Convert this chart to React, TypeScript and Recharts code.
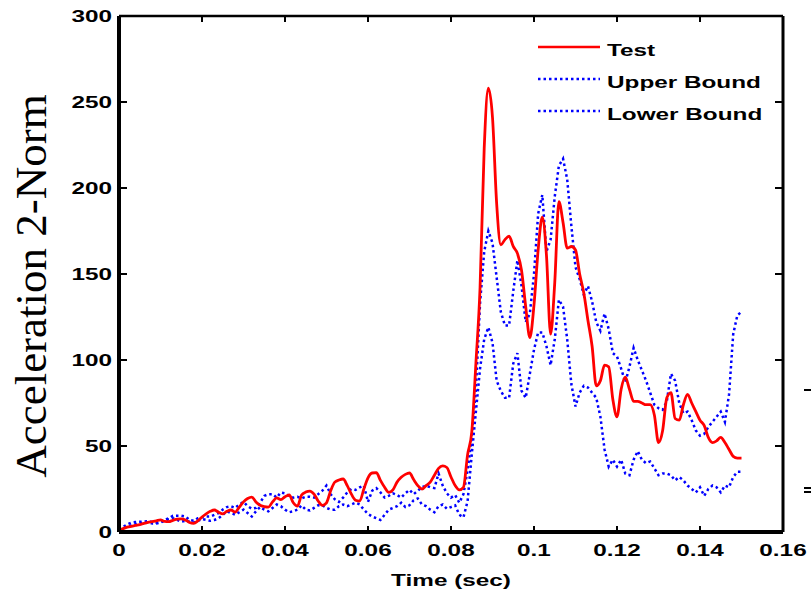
import React from 'react';
import { LineChart, Line, XAxis, YAxis, Legend } from 'recharts';

const TIME_MS = [
  0, 1, 2, 3, 4, 5, 6, 7, 8, 9, 10, 11, 12, 13, 14, 15, 16, 17, 18, 19,
  20, 21, 22, 23, 24, 25, 26, 27, 28, 29, 30, 31, 32, 33, 34, 35, 36, 37, 38, 39,
  40, 41, 42, 43, 44, 45, 46, 47, 48, 49, 50, 51, 52, 53, 54, 55, 56, 57, 58, 59,
  60, 61, 62, 63, 64, 65, 66, 67, 68, 69, 70, 71, 72, 73, 74, 75, 76, 77, 78, 79,
  80, 81, 82, 83, 84, 85, 86, 87, 88, 89, 90, 91, 92, 93, 94, 95, 96, 97, 98, 99,
  100, 101, 102, 103, 104, 105, 106, 107, 108, 109, 110, 111, 112, 113, 114, 115, 116, 117, 118, 119,
  120, 121, 122, 123, 124, 125, 126, 127, 128, 129, 130, 131, 132, 133, 134, 135, 136, 137, 138, 139,
  140, 141, 142, 143, 144, 145, 146, 147, 148, 149, 150,
];

const TEST = [
  1.2, 2, 2.8, 3.3, 3.8, 4.3, 5, 5.6, 6, 6.5,
  7, 6.2, 6, 6.8, 7.5, 7.6, 7, 5.5, 5, 6.5,
  8.7, 10.5, 12, 12.8, 11.5, 10.5, 12, 12.8, 11.6, 14.5,
  17.5, 19.5, 20.3, 17.5, 15.5, 14.8, 14.5, 17.5, 19.8, 18.8,
  20.5, 21.5, 17, 15, 21.5, 23.2, 23.8, 22, 18, 15.5,
  17, 24, 29, 30.2, 30.8, 27, 22, 18.5, 18, 25,
  31.5, 34.3, 34.5, 30, 26, 23, 24.5, 29, 31.8, 33.5,
  34.3, 30.5, 27, 25, 27, 29, 33, 37, 38.4, 37.5,
  32, 27, 24.5, 26, 45, 58, 98, 142, 223, 258,
  241, 191, 167, 170, 172, 166, 162, 152, 131, 113,
  132, 164, 183, 161, 115, 145, 192, 180, 165, 166,
  164, 150, 139, 123, 108, 85, 88, 97, 96, 77,
  67, 83, 90, 83, 76, 76, 75, 74, 74, 68,
  52, 59, 78, 81, 66, 65, 74, 80, 75, 70,
  65, 62, 55, 52, 53, 55, 52, 48, 44, 43, 43,
];

const UPPER = [
  1.5, 3, 4.5, 5.5, 5.8, 6, 6, 6.3, 5.8, 5.5,
  6, 7, 8, 9.5, 9.5, 9.5, 9, 7, 6.5, 8,
  8.5, 9, 9, 10, 11, 13, 14.5, 15, 14, 16,
  17.5, 15, 13.5, 14, 17, 21, 22, 22, 20, 23,
  22.5, 21, 20, 20.5, 19.5, 20.5, 20.5, 20, 22, 24,
  27, 22, 19, 17.5, 20, 23, 25, 24.5, 26, 27,
  17.5, 24, 25.5, 23, 20, 21, 22.5, 21.5, 20, 22.5,
  24.5, 22, 24, 26, 27, 26, 25.5, 34, 27, 22.5,
  20, 21.5, 17, 22, 36, 55, 83, 133, 163, 175,
  168, 148, 128, 120, 120, 140, 158, 143, 122, 127,
  150, 185, 196, 163, 170, 195, 213, 217, 205, 178,
  154, 147, 138, 143, 134, 122, 117, 127, 118, 104,
  102, 95, 87, 96, 107, 100, 94, 88, 81, 74,
  72, 71, 76, 92, 88, 75, 69, 70, 65, 59,
  56, 57, 61, 64, 67, 70, 64, 80, 115, 126, 128,
];

const LOWER = [
  1, 2, 3, 4, 4.5, 5, 5.5, 5.5, 5, 5,
  5.5, 6.5, 7.5, 8, 7, 6, 6.5, 6, 5.5, 6.5,
  7.5, 7, 6.5, 7, 8, 10, 12, 11, 10, 11.5,
  13, 11, 9, 12, 14.5, 13, 12, 14, 16, 15,
  13, 11.5, 12, 13, 15.5, 13, 12.5, 14, 15.5, 15.5,
  14, 13, 13, 15, 16, 15, 16, 17, 16, 13,
  10.5, 9, 8, 7, 10, 13, 14, 15, 17, 14.5,
  15.5, 18.5, 19.5, 16, 15, 13, 11.5, 15, 16, 13.5,
  14.5, 15.5, 10, 8.5, 18, 45, 70, 95, 112, 119,
  110, 88, 82, 78, 78, 98, 104, 82, 78, 92,
  106, 116, 116, 108, 97, 112, 135, 131, 112, 86,
  73, 81, 85, 84, 81, 78, 67, 48, 38, 42,
  38, 42, 34, 33, 42, 47, 42, 40, 41, 37,
  33, 34, 34, 33, 30, 32, 30, 27, 25, 23,
  26, 21, 25, 27, 26, 23, 27, 26, 32, 35, 35,
];

const X_TICKS = [0, 0.02, 0.04, 0.06, 0.08, 0.1, 0.12, 0.14, 0.16];
const Y_TICKS = [0, 50, 100, 150, 200, 250, 300];
const LEGEND_ORDER = ['Test', 'Upper Bound', 'Lower Bound'];

const data = TIME_MS.map((ms, i) => ({
  t: ms / 1000,
  test: TEST[i],
  upper: UPPER[i],
  lower: LOWER[i],
}));

const SANS = '"Liberation Sans", Arial, Helvetica, sans-serif';
const SERIF = '"Liberation Serif", "Times New Roman", serif';
const SX = 1.43;
const FS = 17;

// bottom: label y = axisY - 6 + 18 = axisY + 12
const XTick = (props: any) => {
  const { x, y, payload } = props;
  return (
    <g transform={`translate(${x},${y})`}>
      <line x1={0} x2={0} y1={-12} y2={-18} stroke="#000" strokeWidth={2} />
      <text transform={`scale(${SX},1)`} textAnchor="middle" dy="0.71em" fontFamily={SANS} fontWeight="bold" fontSize={FS} fill="#000">
        {String(payload.value)}
      </text>
    </g>
  );
};

// left: label x = axisX + 8 - 15 = axisX - 7
const YTick = (props: any) => {
  const { x, y, payload } = props;
  return (
    <g transform={`translate(${x},${y})`}>
      <line x1={7} x2={15} y1={0} y2={0} stroke="#000" strokeWidth={2} />
      <text transform={`scale(${SX},1)`} textAnchor="end" dy="0.36em" fontFamily={SANS} fontWeight="bold" fontSize={FS} fill="#000">
        {payload.value}
      </text>
    </g>
  );
};

// top: label y = axisY + 6 (tickMargin 0)
const TopTick = (props: any) => {
  const { x, y } = props;
  return <line x1={x} x2={x} y1={y} y2={y - 6} stroke="#000" strokeWidth={2} />;
};

// right: label x = axisX - 8 (tickMargin 0)
const RightTick = (props: any) => {
  const { x, y } = props;
  return <line x1={x} x2={x + 8} y1={y} y2={y} stroke="#000" strokeWidth={2} />;
};

const YLabel = (props: any) => {
  const vb = props.viewBox || { x: 0, y: 16, width: 119, height: 516 };
  const cx = vb.x + 46;
  const cy = vb.y + vb.height / 2 + 12;
  return (
    <text transform={`translate(${cx},${cy}) rotate(-90)`} textAnchor="middle" fontFamily={SERIF} fontSize={45} fill="#000">
      Acceleration 2-Norm
    </text>
  );
};

const XLabel = (props: any) => {
  const vb = props.viewBox || { x: 119, y: 532, width: 664, height: 59 };
  const cx = vb.x + vb.width / 2;
  const cy = vb.y + 54;
  return (
    <text transform={`translate(${cx},${cy}) scale(${SX},1)`} textAnchor="middle" fontFamily={SANS} fontWeight="bold" fontSize={FS} fill="#000">
      Time (sec)
    </text>
  );
};

const LegendContent = (props: any) => {
  const payload: any[] = (props.payload || []).filter((e: any) => LEGEND_ORDER.indexOf(e.value) >= 0);
  payload.sort((a, b) => LEGEND_ORDER.indexOf(a.value) - LEGEND_ORDER.indexOf(b.value));
  return (
    <svg width={260} height={100} style={{ overflow: 'visible' }}>
      {payload.map((entry, i) => {
        const y = 21 + i * 32;
        const dash = entry.payload && entry.payload.strokeDasharray;
        return (
          <g key={entry.value}>
            <line x1={8} x2={70} y1={y} y2={y} stroke={entry.color} strokeWidth={2.5} strokeDasharray={dash} />
            <text transform={`translate(77,${y + 9}) scale(${SX},1)`} fontFamily={SANS} fontWeight="bold" fontSize={FS} fill="#000">
              {entry.value}
            </text>
          </g>
        );
      })}
    </svg>
  );
};

export default function App() {
  return (
    <div style={{ position: 'absolute', left: 0, top: 0, width: 811, height: 591, background: '#fff' }}>
      <LineChart width={811} height={591} data={data} margin={{ top: 15, right: 27, bottom: 0, left: 0 }}>
        <XAxis
          dataKey="t"
          type="number"
          domain={[0, 0.16]}
          ticks={X_TICKS}
          height={59}
          tickSize={-6}
          tickMargin={18}
          tick={<XTick />}
          axisLine={{ stroke: '#000', strokeWidth: 4 }}
          tickLine={false}
          label={<XLabel />}
        />
        <XAxis
          xAxisId="top"
          orientation="top"
          dataKey="t"
          type="number"
          domain={[0, 0.16]}
          ticks={X_TICKS}
          height={1}
          tickSize={-6}
          tickMargin={0}
          tick={<TopTick />}
          axisLine={{ stroke: '#000', strokeWidth: 2.5 }}
          tickLine={false}
        />
        <YAxis
          type="number"
          domain={[0, 300]}
          ticks={Y_TICKS}
          width={119}
          tickSize={-8}
          tickMargin={15}
          tick={<YTick />}
          axisLine={{ stroke: '#000', strokeWidth: 4 }}
          tickLine={false}
          label={<YLabel />}
        />
        <YAxis
          yAxisId="right"
          orientation="right"
          type="number"
          domain={[0, 300]}
          ticks={Y_TICKS}
          width={1}
          tickSize={-8}
          tickMargin={0}
          tick={<RightTick />}
          axisLine={{ stroke: '#000', strokeWidth: 3 }}
          tickLine={false}
        />
        <Line xAxisId="top" yAxisId="right" dataKey="test" name="frame" stroke="none" legendType="none" dot={false} activeDot={false} isAnimationActive={false} />
        <Line dataKey="upper" name="Upper Bound" type="linear" stroke="#0000ff" strokeWidth={2.5} strokeDasharray="2.5 3" dot={false} isAnimationActive={false} />
        <Line dataKey="lower" name="Lower Bound" type="linear" stroke="#0000ff" strokeWidth={2.5} strokeDasharray="2.5 3" dot={false} isAnimationActive={false} />
        <Line dataKey="test" name="Test" type="monotone" stroke="#ff0000" strokeWidth={2.8} dot={false} isAnimationActive={false} />
        <Legend
          layout="horizontal"
          verticalAlign="middle"
          align="center"
          wrapperStyle={{ left: 530, top: 26, width: 260, height: 100 }}
          content={<LegendContent />}
        />
      </LineChart>
      <div style={{ position: 'absolute', left: 804, top: 389, width: 7, height: 2, background: '#000' }} />
      <div style={{ position: 'absolute', left: 804, top: 487, width: 7, height: 2, background: '#000' }} />
      <div style={{ position: 'absolute', left: 804, top: 491, width: 7, height: 2, background: '#000' }} />
    </div>
  );
}
